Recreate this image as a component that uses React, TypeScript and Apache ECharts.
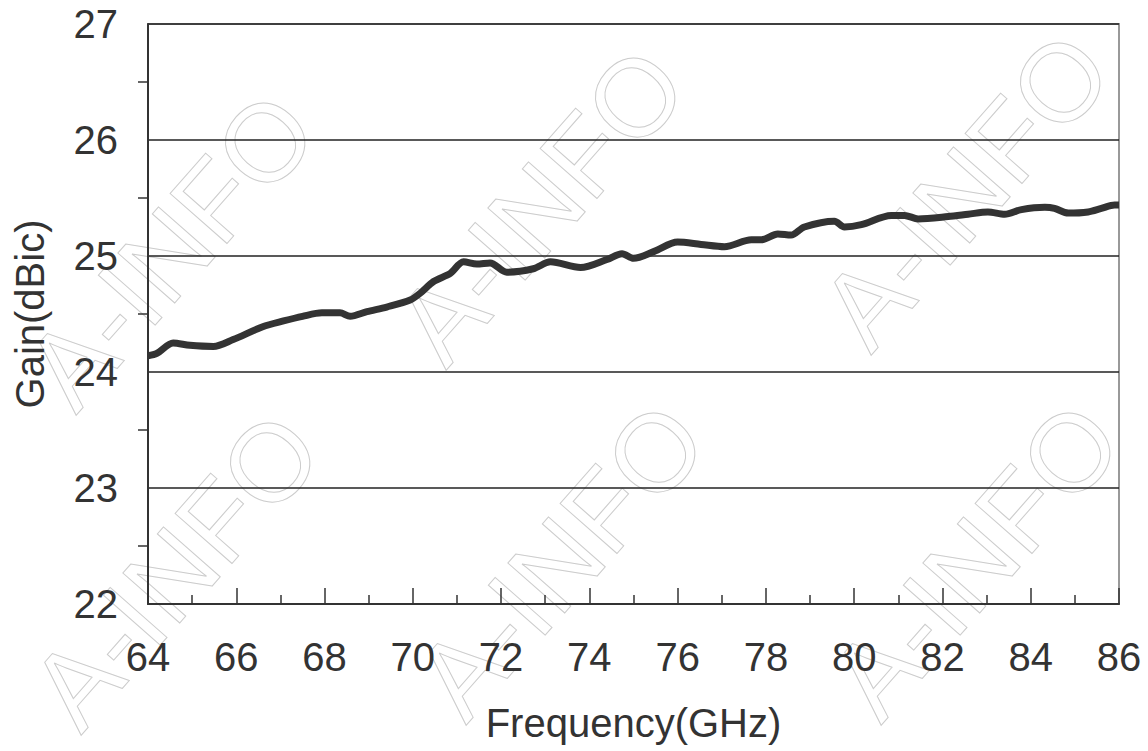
import React, { useEffect, useRef } from "react";
import * as echarts from "echarts";

const freq = [64.0, 64.2, 64.57, 64.95, 65.48, 65.93, 66.6, 67.07, 67.5, 67.94, 68.35, 68.58, 68.96, 69.41, 69.94, 70.17, 70.47, 70.85, 71.15, 71.45, 71.75, 72.13, 72.73, 73.12, 73.8, 74.4, 74.74, 75.0, 75.47, 76.0, 76.53, 77.06, 77.67, 77.9, 78.27, 78.57, 78.87, 79.55, 79.78, 80.16, 80.84, 81.14, 81.45, 82.13, 82.58, 83.03, 83.41, 83.79, 84.32, 84.54, 84.85, 85.3, 85.6, 85.9, 86.0];
const gain = [24.14, 24.16, 24.25, 24.23, 24.22, 24.28, 24.39, 24.44, 24.48, 24.51, 24.51, 24.48, 24.52, 24.56, 24.62, 24.68, 24.78, 24.85, 24.95, 24.93, 24.94, 24.86, 24.89, 24.95, 24.9, 24.97, 25.02, 24.98, 25.04, 25.12, 25.1, 25.08, 25.14, 25.14, 25.19, 25.18, 25.25, 25.3, 25.25, 25.27, 25.35, 25.35, 25.32, 25.34, 25.36, 25.38, 25.36, 25.4, 25.42, 25.41, 25.37, 25.38, 25.41, 25.44, 25.44];

const xTitle = "Frequency(GHz)";
const yTitle = "Gain(dBic)";
const watermark = "A-INFO";
const watermarkCenters = [
  [170, 250], [540, 205], [965, 190],
  [175, 570], [560, 560], [975, 560],
];

export default function App() {
  const ref = useRef<HTMLDivElement>(null);
  useEffect(() => {
    const chart = echarts.init(ref.current!, null, { renderer: "svg" });
    const font = "'Liberation Sans', Arial, sans-serif";
    chart.setOption({
      animation: false,
      backgroundColor: "#ffffff",
      grid: {
        left: 148, right: 29, top: 24, bottom: 147,
        show: true, borderColor: "#999", borderWidth: 2, backgroundColor: "transparent",
      },
      xAxis: {
        type: "value", min: 64, max: 86, interval: 2,
        axisLine: { show: true, onZero: false, lineStyle: { color: "#333", width: 2 } },
        axisTick: { show: true, inside: true, length: 16, lineStyle: { color: "#333", width: 1.5 } },
        minorTick: { show: true, splitNumber: 2, length: 9, lineStyle: { color: "#333", width: 1.5 } },
        splitLine: { show: false },
        axisLabel: { fontSize: 40, color: "#333", fontFamily: font, margin: 33 },
        name: xTitle, nameLocation: "middle", nameGap: 99,
        nameTextStyle: { fontSize: 40, color: "#333", fontFamily: font },
      },
      yAxis: {
        type: "value", min: 22, max: 27, interval: 1,
        axisLine: { show: true, onZero: false, lineStyle: { color: "#333", width: 2 } },
        axisTick: { show: false },
        minorTick: { show: true, splitNumber: 2, length: 10, lineStyle: { color: "#333", width: 1.5 } },
        splitLine: { show: true, lineStyle: { color: "#222", width: 1.5 } },
        axisLabel: { fontSize: 40, color: "#333", fontFamily: font, margin: 30 },
        name: yTitle, nameLocation: "middle", nameGap: 98, nameRotate: 90,
        nameTextStyle: { fontSize: 40, color: "#333", fontFamily: font },
      },
      graphic: watermarkCenters.map(([x, y]) => ({
        type: "text", x, y, rotation: 0.85, silent: true, z: -1,
        style: {
          text: watermark, fontSize: 110, fontFamily: font,
          fill: "transparent", stroke: "#cccccc", lineWidth: 1,
          align: "center", verticalAlign: "middle",
        },
      })),
      series: [{
        type: "line", data: freq.map((f, i) => [f, gain[i]]),
        showSymbol: false, smooth: 0.3,
        lineStyle: { color: "#333", width: 7 },
      }],
    });
    return () => chart.dispose();
  }, []);
  return <div ref={ref} style={{ width: 1148, height: 751, position: "absolute", left: 0, top: 0 }} />;
}
